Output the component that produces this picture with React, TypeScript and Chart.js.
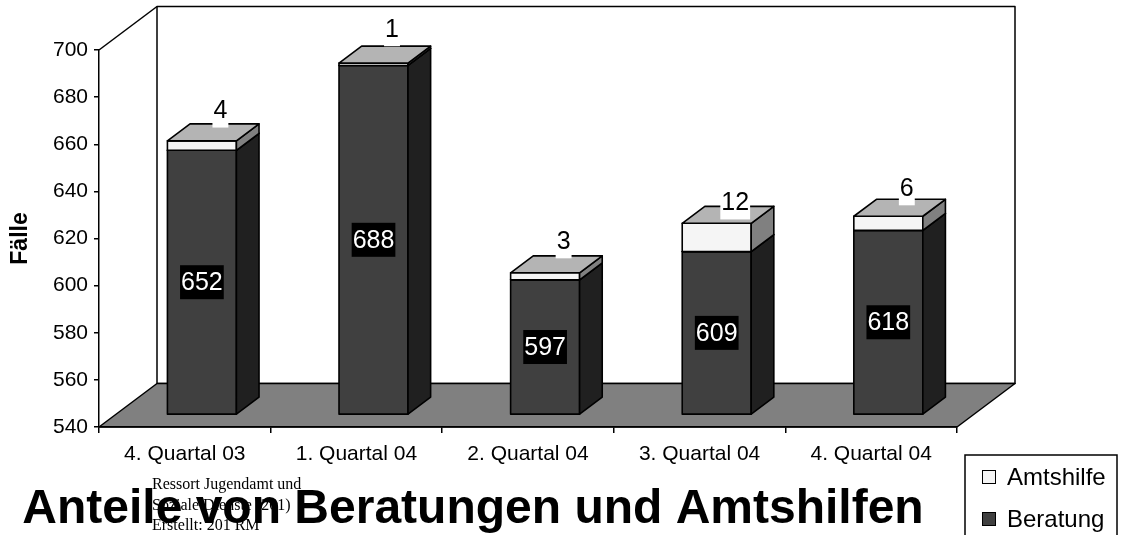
import React, { useEffect, useRef } from 'react';
import { Chart, registerables } from 'chart.js';

Chart.register(...registerables);

const categories = ['4. Quartal 03', '1. Quartal 04', '2. Quartal 04', '3. Quartal 04', '4. Quartal 04'];
const beratung = [652, 688, 597, 609, 618];
const amtshilfe = [4, 1, 3, 12, 6];
const yMin = 540;
const yMax = 700;
const yStep = 20;
const seriesNames = ['Beratung', 'Amtshilfe'];
const chartTitle = 'Anteile von Beratungen und Amtshilfen';
const axisTitle = 'Fälle';
const noteLines = ['Ressort Jugendamt und', 'Soziale Dienste (201)', 'Erstellt: 201 RM'];

const SANS = 'Arial, "Liberation Sans", Helvetica, sans-serif';
const SERIF = '"Times New Roman", "Liberation Serif", serif';

// 3D geometry (pixels)
const DEPTH_X = 58;
const DEPTH_Y = 43.5;
const BAR_FRONT = 0.295;
const BAR_BACK = 0.685;

const COLORS = {
  beratung: { front: '#404040', side: '#202020', top: '#606060' },
  amtshilfe: { front: '#F5F5F5', side: '#808080', top: '#B4B4B4' },
  floor: '#808080',
};

function poly(ctx: CanvasRenderingContext2D, pts: number[][], fill: string | null) {
  ctx.beginPath();
  ctx.moveTo(pts[0][0], pts[0][1]);
  for (let i = 1; i < pts.length; i++) ctx.lineTo(pts[i][0], pts[i][1]);
  ctx.closePath();
  if (fill) {
    ctx.fillStyle = fill;
    ctx.fill();
  }
  ctx.stroke();
}

function drawBox(
  ctx: CanvasRenderingContext2D,
  x0: number, x1: number, yTop: number, yBot: number,
  dx: number, dy: number,
  c: { front: string; side: string; top: string },
  withTop: boolean
) {
  poly(ctx, [[x0, yTop], [x1, yTop], [x1, yBot], [x0, yBot]], c.front);
  poly(ctx, [[x1, yTop], [x1 + dx, yTop - dy], [x1 + dx, yBot - dy], [x1, yBot]], c.side);
  if (withTop) {
    poly(ctx, [[x0, yTop], [x0 + dx, yTop - dy], [x1 + dx, yTop - dy], [x1, yTop]], c.top);
  }
}

function labelBox(
  ctx: CanvasRenderingContext2D, text: string, cx: number, cy: number,
  bg: string, fg: string
) {
  ctx.font = `25px ${SANS}`;
  const w = ctx.measureText(text).width + 2;
  const h = 34;
  ctx.fillStyle = bg;
  ctx.fillRect(cx - w / 2, cy - h / 2, w, h);
  ctx.fillStyle = fg;
  ctx.textAlign = 'center';
  ctx.textBaseline = 'middle';
  ctx.fillText(text, cx, cy + 1);
}

const threeD = {
  id: 'threeD',
  beforeDraw(chart: any) {
    const { ctx, chartArea } = chart;
    const { left, right, top, bottom } = chartArea;
    ctx.save();
    ctx.strokeStyle = '#000';
    ctx.lineWidth = 1.5;
    ctx.lineJoin = 'round';
    // back wall
    ctx.fillStyle = '#fff';
    ctx.beginPath();
    ctx.rect(left + DEPTH_X, top - DEPTH_Y, right - left, bottom - top);
    ctx.fill();
    ctx.stroke();
    // left wall top edge
    ctx.beginPath();
    ctx.moveTo(left, top);
    ctx.lineTo(left + DEPTH_X, top - DEPTH_Y);
    ctx.stroke();
    // floor
    poly(ctx, [[left, bottom], [right, bottom], [right + DEPTH_X, bottom - DEPTH_Y], [left + DEPTH_X, bottom - DEPTH_Y]], COLORS.floor);
    ctx.restore();
  },
  afterDatasetsDraw(chart: any) {
    const { ctx, chartArea } = chart;
    const m0 = chart.getDatasetMeta(0);
    const m1 = chart.getDatasetMeta(1);
    const fx = DEPTH_X * BAR_FRONT;
    const fy = DEPTH_Y * BAR_FRONT;
    const sx = DEPTH_X * (BAR_BACK - BAR_FRONT);
    const sy = DEPTH_Y * (BAR_BACK - BAR_FRONT);
    ctx.save();
    ctx.strokeStyle = '#000';
    ctx.lineWidth = 1.6;
    ctx.lineJoin = 'round';
    const labels: Array<() => void> = [];
    for (let i = 0; i < m0.data.length; i++) {
      const b = m0.data[i].getProps(['x', 'y', 'base', 'width'], true);
      const a = m1.data[i].getProps(['x', 'y', 'base', 'width'], true);
      const x0 = b.x - b.width / 2 + fx;
      const x1 = b.x + b.width / 2 + fx;
      const bBase = Math.min(b.base, chartArea.bottom) - fy;
      const bTop = b.y - fy;
      drawBox(ctx, x0, x1, bTop, bBase, sx, sy, COLORS.beratung, true);
      const aBase = a.base - fy;
      const aTop = a.y - fy;
      drawBox(ctx, x0, x1, aTop, aBase, sx, sy, COLORS.amtshilfe, true);
      const cx = b.x + fx;
      labels.push(() => labelBox(ctx, String(beratung[i]), cx, (bTop + bBase) / 2, '#000', '#fff'));
      labels.push(() => labelBox(ctx, String(amtshilfe[i]), cx + 18.5, (aTop + aBase) / 2 - 35, '#fff', '#000'));
    }
    labels.forEach((f) => f());
    ctx.restore();
  },
  afterDraw(chart: any) {
    const { ctx } = chart;
    ctx.save();
    // note text
    ctx.fillStyle = '#000';
    ctx.font = `16px ${SERIF}`;
    ctx.textAlign = 'left';
    ctx.textBaseline = 'alphabetic';
    noteLines.forEach((t, i) => ctx.fillText(t, 152, 489 + i * 20.5));
    // title
    ctx.font = `bold 48px ${SANS}`;
    ctx.textAlign = 'center';
    ctx.fillText(chartTitle, 473, 523);
    // legend
    ctx.strokeStyle = '#000';
    ctx.lineWidth = 1.5;
    ctx.fillStyle = '#fff';
    ctx.fillRect(965, 455, 152, 90);
    ctx.strokeRect(965, 455, 152, 90);
    const items = [
      { name: seriesNames[1], color: COLORS.amtshilfe.front, y: 477 },
      { name: seriesNames[0], color: COLORS.beratung.front, y: 519 },
    ];
    ctx.lineWidth = 1;
    items.forEach((it) => {
      ctx.fillStyle = it.color;
      ctx.fillRect(982.5, it.y - 6.5, 13, 13);
      ctx.strokeRect(982.5, it.y - 6.5, 13, 13);
      ctx.fillStyle = '#000';
      ctx.font = `24px ${SANS}`;
      ctx.textAlign = 'left';
      ctx.textBaseline = 'middle';
      ctx.fillText(it.name, 1007, it.y + 1);
    });
    ctx.restore();
  },
};

export default function App() {
  const ref = useRef<HTMLCanvasElement | null>(null);
  useEffect(() => {
    if (!ref.current) return;
    Chart.defaults.font.family = SANS;
    const chart = new Chart(ref.current, {
      type: 'bar',
      data: {
        labels: categories,
        datasets: [
          { label: seriesNames[0], data: beratung, backgroundColor: 'rgba(0,0,0,0)', borderWidth: 0, stack: 's' },
          { label: seriesNames[1], data: amtshilfe, backgroundColor: 'rgba(0,0,0,0)', borderWidth: 0, stack: 's' },
        ],
      },
      options: {
        responsive: false,
        animation: false,
        events: [],
        layout: { padding: { top: 50, right: 165, left: 0, bottom: 0 } },
        datasets: { bar: { categoryPercentage: 1, barPercentage: 0.402 } },
        plugins: {
          legend: { display: false },
          title: { display: false },
          tooltip: { enabled: false },
        },
        scales: {
          x: {
            stacked: true,
            grid: { display: true, drawOnChartArea: false, drawTicks: true, tickLength: 6, color: '#000', lineWidth: 1.5, offset: true },
            border: { display: true, color: '#000', width: 1.5 },
            ticks: { color: '#000', font: { size: 21, family: SANS }, padding: 9, maxRotation: 0, autoSkip: false },
            afterFit: (s: any) => { s.height = 108; },
          },
          y: {
            stacked: true,
            min: yMin,
            max: yMax,
            grid: { display: true, drawOnChartArea: false, drawTicks: true, tickLength: 5, color: '#000', lineWidth: 1.5 },
            border: { display: true, color: '#000', width: 1.5 },
            ticks: { stepSize: yStep, color: '#000', font: { size: 21, family: SANS }, padding: 6 },
            title: { display: true, text: axisTitle, color: '#000', font: { size: 23, weight: 'bold', family: SANS }, padding: { top: 7, bottom: 0 } },
            afterFit: (s: any) => { s.width = 99; },
          },
        },
      },
      plugins: [threeD],
    } as any);
    return () => chart.destroy();
  }, []);
  return (
    <div style={{ position: 'fixed', left: 0, top: 0, width: 1122, height: 535, background: '#fff' }}>
      <canvas ref={ref} width={1122} height={535} style={{ display: 'block' }} />
    </div>
  );
}
